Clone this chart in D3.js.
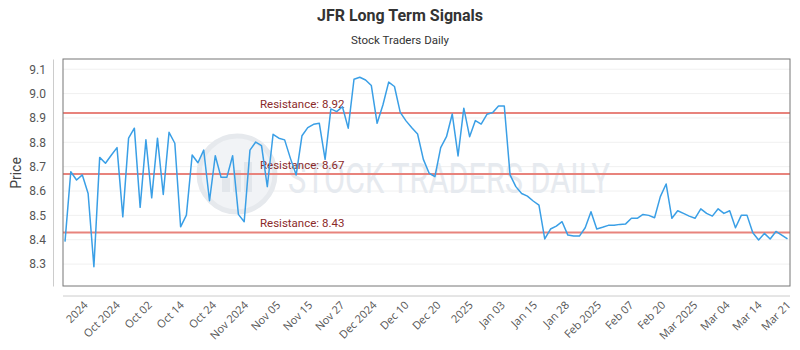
<!DOCTYPE html>
<html>
<head>
<meta charset="utf-8">
<script src="https://cdn.jsdelivr.net/npm/d3@7"></script>
<style>
  html, body { margin: 0; padding: 0; background: #fff; }
  svg { display: block; font-family: Roboto, "Open Sans", sans-serif; }
</style>
</head>
<body>
<svg id="chart" width="800" height="350"></svg>
<script>
// ---- data ----
const prices = [
  8.392, 8.679, 8.645, 8.666, 8.590, 8.289, 8.738, 8.714, 8.747, 8.778,
  8.494, 8.817, 8.858, 8.533, 8.810, 8.572, 8.817, 8.586, 8.841, 8.796,
  8.453, 8.501, 8.748, 8.716, 8.768, 8.560,
  8.745, 8.656, 8.656, 8.745, 8.504, 8.474, 8.768, 8.801, 8.786, 8.618,
  8.833, 8.817, 8.810, 8.734, 8.666, 8.827, 8.860, 8.874, 8.878, 8.730,
  8.937, 8.926, 8.946, 8.858, 9.059,
  9.067, 9.056, 9.033, 8.878, 8.953, 9.047, 9.029, 8.923, 8.888, 8.860,
  8.834, 8.730, 8.673, 8.659, 8.778, 8.823, 8.916, 8.744, 8.940, 8.823,
  8.889, 8.875, 8.915, 8.922, 8.949,
  8.949, 8.666, 8.618, 8.590, 8.579, 8.559, 8.542, 8.403, 8.444, 8.456,
  8.474, 8.419, 8.415, 8.415, 8.449, 8.515, 8.444, 8.451, 8.459, 8.459,
  8.463, 8.465, 8.488, 8.488, 8.504,
  8.500, 8.490, 8.577, 8.629, 8.488, 8.519, 8.508, 8.497, 8.488, 8.527,
  8.508, 8.497, 8.527, 8.508, 8.519, 8.449, 8.500, 8.500, 8.429, 8.399,
  8.426, 8.403, 8.434, 8.419, 8.403
];
const resistanceLevels = [8.92, 8.67, 8.43];
const xTickLabels = ["2024", "Oct 2024", "Oct 02", "Oct 14", "Oct 24", "Nov 2024", "Nov 05",
  "Nov 15", "Nov 27", "Dec 2024", "Dec 10", "Dec 20", "2025", "Jan 03", "Jan 15", "Jan 28",
  "Feb 2025", "Feb 07", "Feb 20", "Mar 2025", "Mar 04", "Mar 14", "Mar 21"];
const yTickValues = [8.3, 8.4, 8.5, 8.6, 8.7, 8.8, 8.9, 9.0, 9.1];
const titleText = "JFR Long Term Signals";
const subtitleText = "Stock Traders Daily";
const watermarkText = "STOCK TRADERS DAILY";

// ---- layout ----
const svg = d3.select("#chart");
const plot = { left: 63, right: 790, top: 59, bottom: 286 };

const x = d3.scaleLinear().domain([0, prices.length - 1]).range([65, 787.5]);
const y = d3.scaleLinear().domain([8.21, 9.142]).range([plot.bottom, plot.top]);

// title
svg.append("text").attr("x", 400).attr("y", 21).attr("text-anchor", "middle")
  .attr("font-size", 16).attr("font-weight", "bold").attr("fill", "#333").text(titleText);
svg.append("text").attr("x", 400).attr("y", 44).attr("text-anchor", "middle")
  .attr("font-size", 11.5).attr("fill", "#333").text(subtitleText);

// grid
svg.append("g").selectAll("line").data(yTickValues).join("line")
  .attr("x1", plot.left).attr("x2", plot.right)
  .attr("y1", d => y(d)).attr("y2", d => y(d))
  .attr("stroke", "#f0f0f0").attr("stroke-width", 1);

// watermark
const wm = svg.append("g");
wm.append("circle").attr("cx", 237).attr("cy", 174).attr("r", 38)
  .attr("fill", "#f1f3f6").attr("stroke", "#e6e9ed").attr("stroke-width", 5);
const wmBars = [14, 22, 30];
wm.selectAll("rect").data(wmBars).join("rect")
  .attr("x", (d, i) => 222 + i * 11).attr("width", 8)
  .attr("y", d => 192 - d).attr("height", d => d)
  .attr("fill", "#e2e6eb");
wm.append("text").attr("x", 288).attr("y", 193).attr("font-size", 42)
  .attr("textLength", 322).attr("lengthAdjust", "spacingAndGlyphs")
  .attr("fill", "#e6eaef").attr("font-family", "Roboto, sans-serif").text(watermarkText);

// resistance lines
const res = svg.append("g");
res.selectAll("line").data(resistanceLevels).join("line")
  .attr("x1", plot.left).attr("x2", plot.right)
  .attr("y1", d => y(d)).attr("y2", d => y(d))
  .attr("stroke", "#e8837c").attr("stroke-width", 2);
res.selectAll("text").data(resistanceLevels).join("text")
  .attr("x", 260).attr("y", d => y(d) - 5)
  .attr("font-size", 11.5).attr("fill", "#8b2a2a")
  .text(d => "Resistance: " + d.toFixed(2));

// price line
svg.append("path").datum(prices)
  .attr("fill", "none").attr("stroke", "#3a9fe6").attr("stroke-width", 1.5)
  .attr("stroke-linejoin", "round")
  .attr("d", d3.line().x((d, i) => x(i)).y(d => y(d)));

// plot border
svg.append("rect").attr("x", plot.left).attr("y", plot.top)
  .attr("width", plot.right - plot.left).attr("height", plot.bottom - plot.top)
  .attr("fill", "none").attr("stroke", "#777").attr("stroke-width", 1);

// y axis
const yAxis = svg.append("g").attr("transform", "translate(53,0)")
  .call(d3.axisLeft(y).tickValues(yTickValues).tickFormat(d3.format(".1f")).tickSize(0).tickPadding(7));
yAxis.select(".domain").attr("stroke", "#ccc");
yAxis.selectAll("text").attr("font-size", 12).attr("fill", "#555").attr("font-family", "Roboto, sans-serif");

svg.append("text").attr("transform", "translate(21,173) rotate(-90)")
  .attr("text-anchor", "middle").attr("font-size", 14).attr("fill", "#444").text("Price");

// x axis (labels evenly spaced, last at final point)
const xTickPos = d3.scalePoint().domain(xTickLabels.slice(0, -1)).range([x(3.4), x(120)]);
const tickX = d => (d === xTickLabels[xTickLabels.length - 1] ? x(prices.length - 1) : xTickPos(d));
const xAxisScale = d3.scaleOrdinal().domain(xTickLabels).range(xTickLabels.map(tickX));
svg.append("line").attr("x1", plot.left).attr("x2", plot.right)
  .attr("y1", 296).attr("y2", 296).attr("stroke", "#ccc");
svg.append("g").selectAll("text").data(xTickLabels).join("text")
  .attr("transform", d => `translate(${xAxisScale(d)},302) rotate(-45)`)
  .attr("text-anchor", "end").attr("dy", "0.5em")
  .attr("font-size", 11).attr("fill", "#555").attr("font-family", "'Open Sans', sans-serif")
  .text(d => d);
</script>
</body>
</html>
